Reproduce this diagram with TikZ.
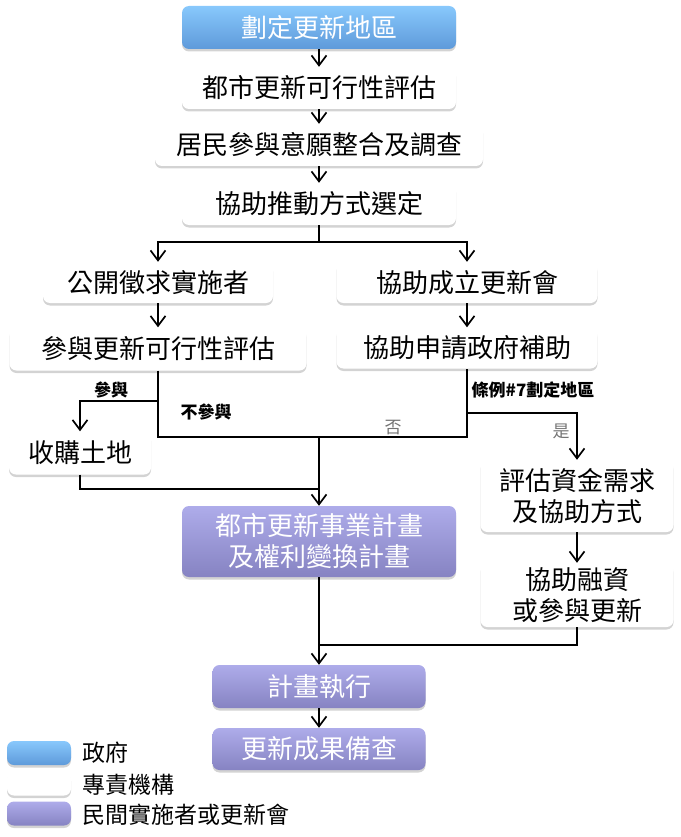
\documentclass[tikz,border=0pt]{standalone}
\usepackage{fontspec}
\setmainfont{Noto Sans CJK TC}
\usepackage{tikz}
\usetikzlibrary{arrows.meta,shadows}

\definecolor{govtop}{RGB}{136,200,252}
\definecolor{govbot}{RGB}{94,154,218}
\definecolor{pvttop}{RGB}{174,172,234}
\definecolor{pvtbot}{RGB}{134,131,194}

\tikzset{
    stepnode/.style={rounded corners=7pt, inner sep=0pt, align=center,
        font={\fontsize{26}{31}\selectfont},
        drop shadow={shadow xshift=0pt, shadow yshift=-2.5pt, opacity=0.35}},
    govbox/.style={stepnode, top color=govtop, bottom color=govbot, text=white},
    orgbox/.style={stepnode, fill=white, text=black},
    pvtbox/.style={stepnode, top color=pvttop, bottom color=pvtbot, text=white},
    link/.style={line width=1.7pt, black},
    arr/.style={link, -{Straight Barb[length=10pt,width=15pt]}},
    lbl/.style={font={\fontsize{17}{19}\selectfont\bfseries}, inner sep=1pt},
    glbl/.style={font={\fontsize{17}{19}\selectfont}, text=black!55, inner sep=1pt},
    keytext/.style={anchor=west, font={\fontsize{23}{26}\selectfont}, inner sep=0pt}
}

\begin{document}
\begin{tikzpicture}[x=1pt, y=-1pt]
        \useasboundingbox (0, 0) rectangle (680, 837);
        % main column
        \node[govbox, minimum width=274pt, minimum height=43pt] (zone) at (319, 27.5) {劃定更新地區};
        \node[orgbox, minimum width=274pt, minimum height=42pt] (feas) at (319, 88) {都市更新可行性評估};
        \node[orgbox, minimum width=328pt, minimum height=42pt] (resid) at (319, 145) {居民參與意願整合及調查};
        \node[orgbox, minimum width=274pt, minimum height=42pt] (mode) at (319, 204) {協助推動方式選定};
        % left branch
        \node[orgbox, minimum width=230pt, minimum height=41pt] (seek) at (158, 282.5) {公開徵求實施者};
        \node[orgbox, minimum width=297pt, minimum height=43pt] (join) at (158, 349) {參與更新可行性評估};
        \node[orgbox, minimum width=142pt, minimum height=43pt] (buy) at (80, 453) {收購土地};
        % right branch
        \node[orgbox, minimum width=261pt, minimum height=41pt] (assoc) at (467, 282.5) {協助成立更新會};
        \node[orgbox, minimum width=261pt, minimum height=41pt] (grant) at (467, 348) {協助申請政府補助};
        \node[orgbox, minimum width=193pt, minimum height=72pt] (fund) at (577, 496) {評估資金需求\\及協助方式};
        \node[orgbox, minimum width=193pt, minimum height=64pt] (loan) at (577, 595) {協助融資\\或參與更新};
        % lower column
        \node[pvtbox, minimum width=274pt, minimum height=71pt] (plan) at (319, 541.5) {都市更新事業計畫\\及權利變換計畫};
        \node[pvtbox, minimum width=213pt, minimum height=43pt] (exec) at (319, 686.5) {計畫執行};
        \node[pvtbox, minimum width=213pt, minimum height=42pt] (done) at (319, 749) {更新成果備查};

        % connectors
        \draw[arr] (zone) -- (feas);
        \draw[arr] (feas) -- (resid);
        \draw[arr] (resid) -- (mode);
        \coordinate (split) at (319, 242);
        \draw[link] (mode) -- (split);
        \draw[arr] (split) -| (seek.north);
        \draw[arr] (split) -| (assoc.north);
        \draw[arr] (seek) -- (join);
        \draw[arr] (assoc) -- (grant);
        \coordinate (merge) at (319, 437);
        \draw[link] (join.south) |- (merge) -| (grant.south);
        \coordinate (buyfork) at (158, 401);
        \draw[arr] (buyfork) -| (buy.north);
        \coordinate (yesfork) at (467, 413);
        \draw[arr] (yesfork) -| (fund.north);
        \draw[arr] (fund) -- (loan);
        \coordinate (buyjoin) at (319, 489);
        \draw[link] (buy.south) |- (buyjoin);
        \draw[arr] (merge) -- (plan.north);
        \coordinate (loanjoin) at (319, 645);
        \draw[link] (loan.south) |- (loanjoin);
        \draw[arr] (plan) -- (exec);
        \draw[arr] (exec) -- (done);

        % labels
        \node[lbl] (tJoin) at (111, 390) {參與};
        \node[lbl] (tSkip) at (206, 412) {不參與};
        \node[lbl] (tRule) at (533, 390) {條例\#7劃定地區};
        \node[glbl] (tNo) at (393, 428) {否};
        \node[glbl] (tYes) at (561, 431) {是};

        % legend
        \node[govbox, minimum width=64pt, minimum height=24pt] (keyGov) at (39, 753) {};
        \node[orgbox, minimum width=64pt, minimum height=24pt] (keyOrg) at (39, 783.5) {};
        \node[pvtbox, minimum width=64pt, minimum height=24pt] (keyPvt) at (39, 813.5) {};
        \node[keytext] (tGov) at (82, 753) {政府};
        \node[keytext] (tOrg) at (82, 785) {專責機構};
        \node[keytext] (tPvt) at (82, 815) {民間實施者或更新會};
    \end{tikzpicture}
\end{document}
